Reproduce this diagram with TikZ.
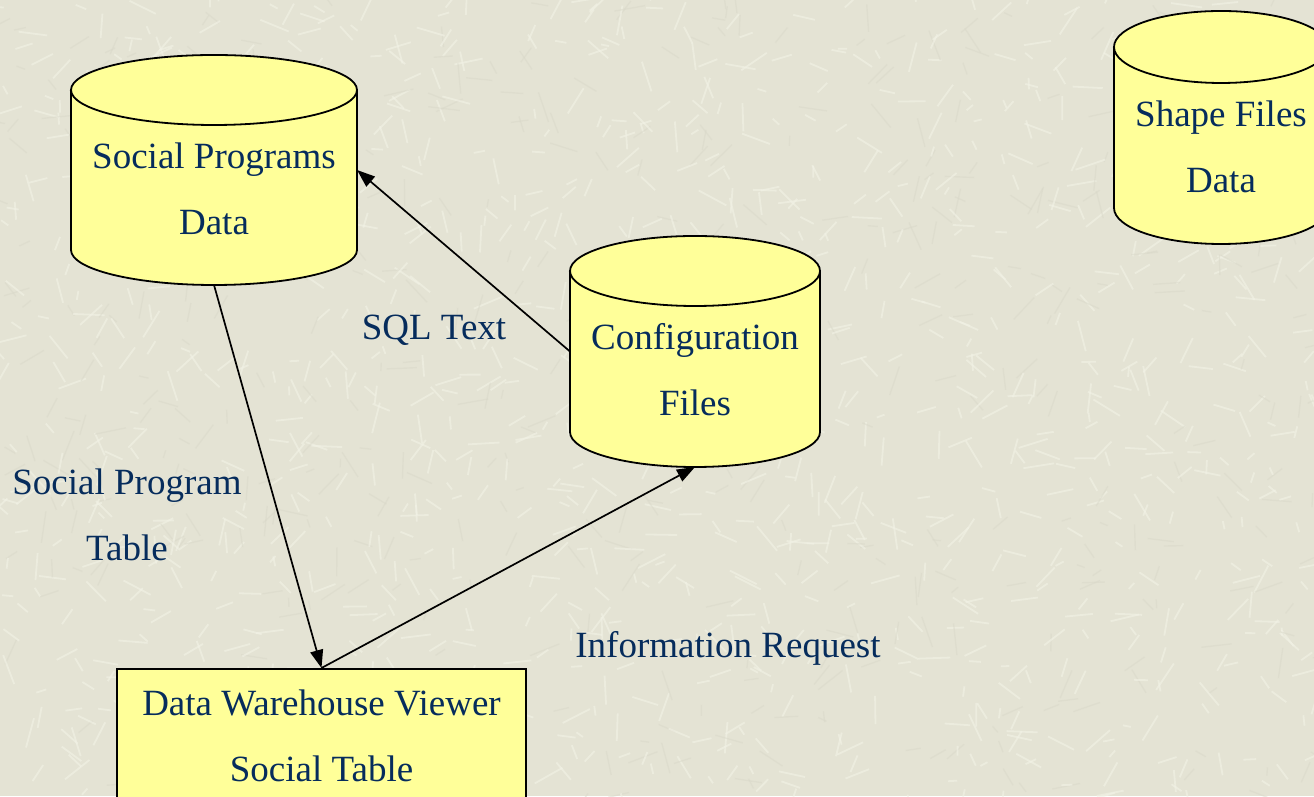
\documentclass[tikz,border=0pt]{standalone}
\usepackage{fontspec}
\setmainfont{Liberation Serif}
\usetikzlibrary{arrows.meta}
\definecolor{bgbase}{RGB}{228,227,212}
\definecolor{bglight}{RGB}{242,242,230}
\definecolor{bgdark}{RGB}{218,217,202}
\definecolor{dbfill}{RGB}{255,255,153}
\definecolor{txt}{RGB}{6,44,92}
\tikzset{
  lbl/.style={text=txt, font=\fontsize{37bp}{66bp}\selectfont, align=center, inner sep=0pt},
  body/.style={draw=none, inner sep=0pt, outer sep=0pt},
  flow/.style={line width=1.7bp, -{Triangle[length=18bp,width=13bp]}},
  outline/.style={draw=black, line width=1.8bp, fill=dbfill}
}
% #1 name, #2 cx, #3 top-ellipse centre Y, #4 bottom-ellipse centre Y, #5 rx, #6 ry
\newcommand\dbcyl[6]{%
  \node[body, minimum width={2*#5 bp}, minimum height={(#3-#4+2*#6)*1bp}] (#1) at (#2,{(#3+#4)/2}) {};
  \draw[outline] ({#2-#5},#3) -- ({#2-#5},#4) arc[start angle=180,end angle=360,x radius=#5bp,y radius=#6bp]
     -- ({#2+#5},#3) arc[start angle=0,end angle=180,x radius=#5bp,y radius=#6bp] -- cycle;
  \draw[line width=1.8bp] ({#2-#5},#3) arc[start angle=180,end angle=360,x radius=#5bp,y radius=#6bp];
}
\begin{document}
\begin{tikzpicture}[x=1bp,y=1bp]
\useasboundingbox (0,0) rectangle (1314,796);
\clip (0,0) rectangle (1314,796);
\fill[bgbase] (0,0) rectangle (1314,796);
% texture
\pgfmathsetseed{4242}
\foreach \i in {1,...,1600}{
  \pgfmathsetmacro\px{rnd*1314}
  \pgfmathsetmacro\py{rnd*796}
  \pgfmathsetmacro\ang{rnd*360}
  \pgfmathsetmacro\len{8+rnd*24}
  \pgfmathsetmacro\c{rnd}
  \ifdim\c pt<0.7pt
    \draw[bglight, line width=1.8bp, opacity=0.6] (\px,\py) -- ++(\ang:\len);
  \else
    \draw[bgdark, line width=1.4bp, opacity=0.5] (\px,\py) -- ++(\ang:\len);
  \fi
}
% cylinders
\dbcyl{sp}{214}{706}{546}{143}{35}
\dbcyl{cf}{695}{525}{364}{125}{35}
\dbcyl{sf}{1221}{749}{588}{107}{36}
% rectangle
\node[outline, minimum width=409bp, minimum height=150bp, inner sep=0pt, anchor=north] (dw) at (321.5,128) {};
% texts
\node[lbl] (spt) at (214,607.5) {Social Programs\\Data};
\node[lbl] (cft) at (695,426.5) {Configuration\\Files};
\node[lbl] (sft) at (1221,649.5) {Shape Files\\Data};
\node[lbl] (dwt) at (321.5,60) {Data Warehouse Viewer\\Social Table};
\node[lbl] (sql) at (434,466) {SQL Text};
\node[lbl] (spl) at (127,281) {Social Program\\Table};
\node[lbl] (irq) at (728,148) {Information Request};
% connectors
\draw[flow] (sp.south) -- (dw.north);
\draw[flow] (cf.west) -- (sp.east);
\draw[flow] (dw.north) -- (cf.south);
\end{tikzpicture}
\end{document}
